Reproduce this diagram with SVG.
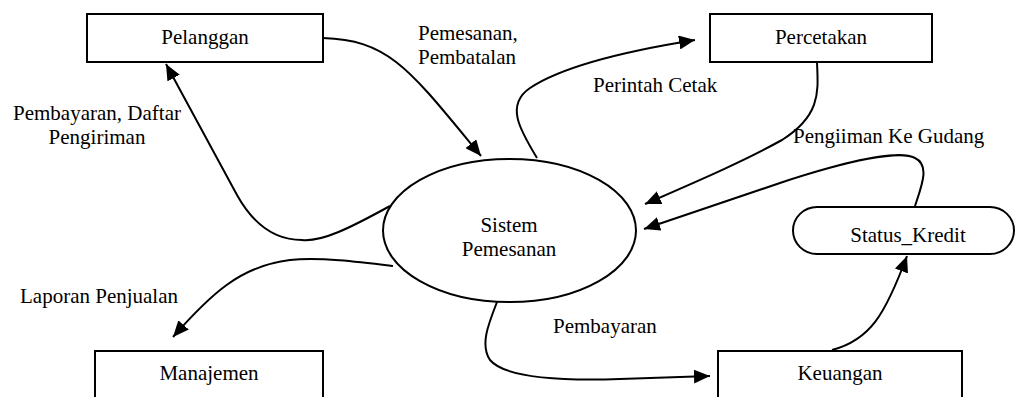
<svg xmlns="http://www.w3.org/2000/svg" width="1017" height="397" viewBox="0 0 1017 397">
<style>
.box{fill:#fff;stroke:#000;stroke-width:2}
text{font-family:'Liberation Serif','Tinos','DejaVu Serif',serif;font-size:21px;fill:#000}
.m{text-anchor:middle}
.c{fill:none;stroke:#000;stroke-width:2;marker-end:url(#ah)}
</style>
<defs>
<marker id="ah" markerUnits="userSpaceOnUse" markerWidth="16" markerHeight="14" refX="16" refY="7" orient="auto">
<path d="M0,0 L16,7 L0,14 z" fill="#000"/>
</marker>
</defs>
<rect width="1017" height="397" fill="#fff"/>
<g id="connectors">
<path class="c" d="M323,38 C390,40 410,70 481,156"/>
<path class="c" d="M390,206 C350,228 322,242 302,240 C272,240 252,222 237,195 L166,64"/>
<path class="c" d="M537,158 C520,130 505,105 530,88 C560,68 620,52 695,40"/>
<path class="c" d="M817,62 C818,90 822,115 782,140 C742,162 700,180 645,204"/>
<path class="c" d="M915,206 C922,185 930,165 915,158 C900,150 850,160 780,183 L644,229"/>
<path class="c" d="M393,266 C360,262 320,257 290,260 C240,266 210,295 173,337"/>
<path class="c" d="M497,302 C488,325 480,345 490,360 C505,378 560,381 620,379 L710,376"/>
<path class="c" d="M832,350 C870,340 885,315 907,256"/>
</g>
<g id="node-pelanggan">
<rect class="box" x="87" y="14" width="236" height="48"/>
<text class="m" x="205" y="44" font-family="Liberation Serif, serif">Pelanggan</text>
</g>
<g id="node-percetakan">
<rect class="box" x="710" y="14" width="222" height="48"/>
<text class="m" x="821" y="44">Percetakan</text>
</g>
<g id="node-sistem">
<ellipse class="box" cx="509.5" cy="230.5" rx="126.5" ry="71.5"/>
<text class="m" x="509" y="232">Sistem</text>
<text class="m" x="509" y="256">Pemesanan</text>
</g>
<g id="node-status">
<rect class="box" x="793" y="207" width="221" height="47" rx="24" ry="23.5"/>
<text class="m" x="908" y="242">Status_Kredit</text>
</g>
<g id="node-manajemen">
<rect class="box" x="95" y="351" width="228" height="60"/>
<text class="m" x="209" y="380">Manajemen</text>
</g>
<g id="node-keuangan">
<rect class="box" x="718" y="351" width="244" height="60"/>
<text class="m" x="840" y="380">Keuangan</text>
</g>
<g id="labels">
<text x="418" y="40">Pemesanan,</text>
<text x="418" y="64">Pembatalan</text>
<text class="m" x="97" y="120">Pembayaran, Daftar</text>
<text class="m" x="97" y="144">Pengiriman</text>
<text x="593" y="92">Perintah Cetak</text>
<text x="793" y="143">Pengiiman Ke Gudang</text>
<text x="20" y="303">Laporan Penjualan</text>
<text x="553" y="333">Pembayaran</text>
</g>
</svg>
